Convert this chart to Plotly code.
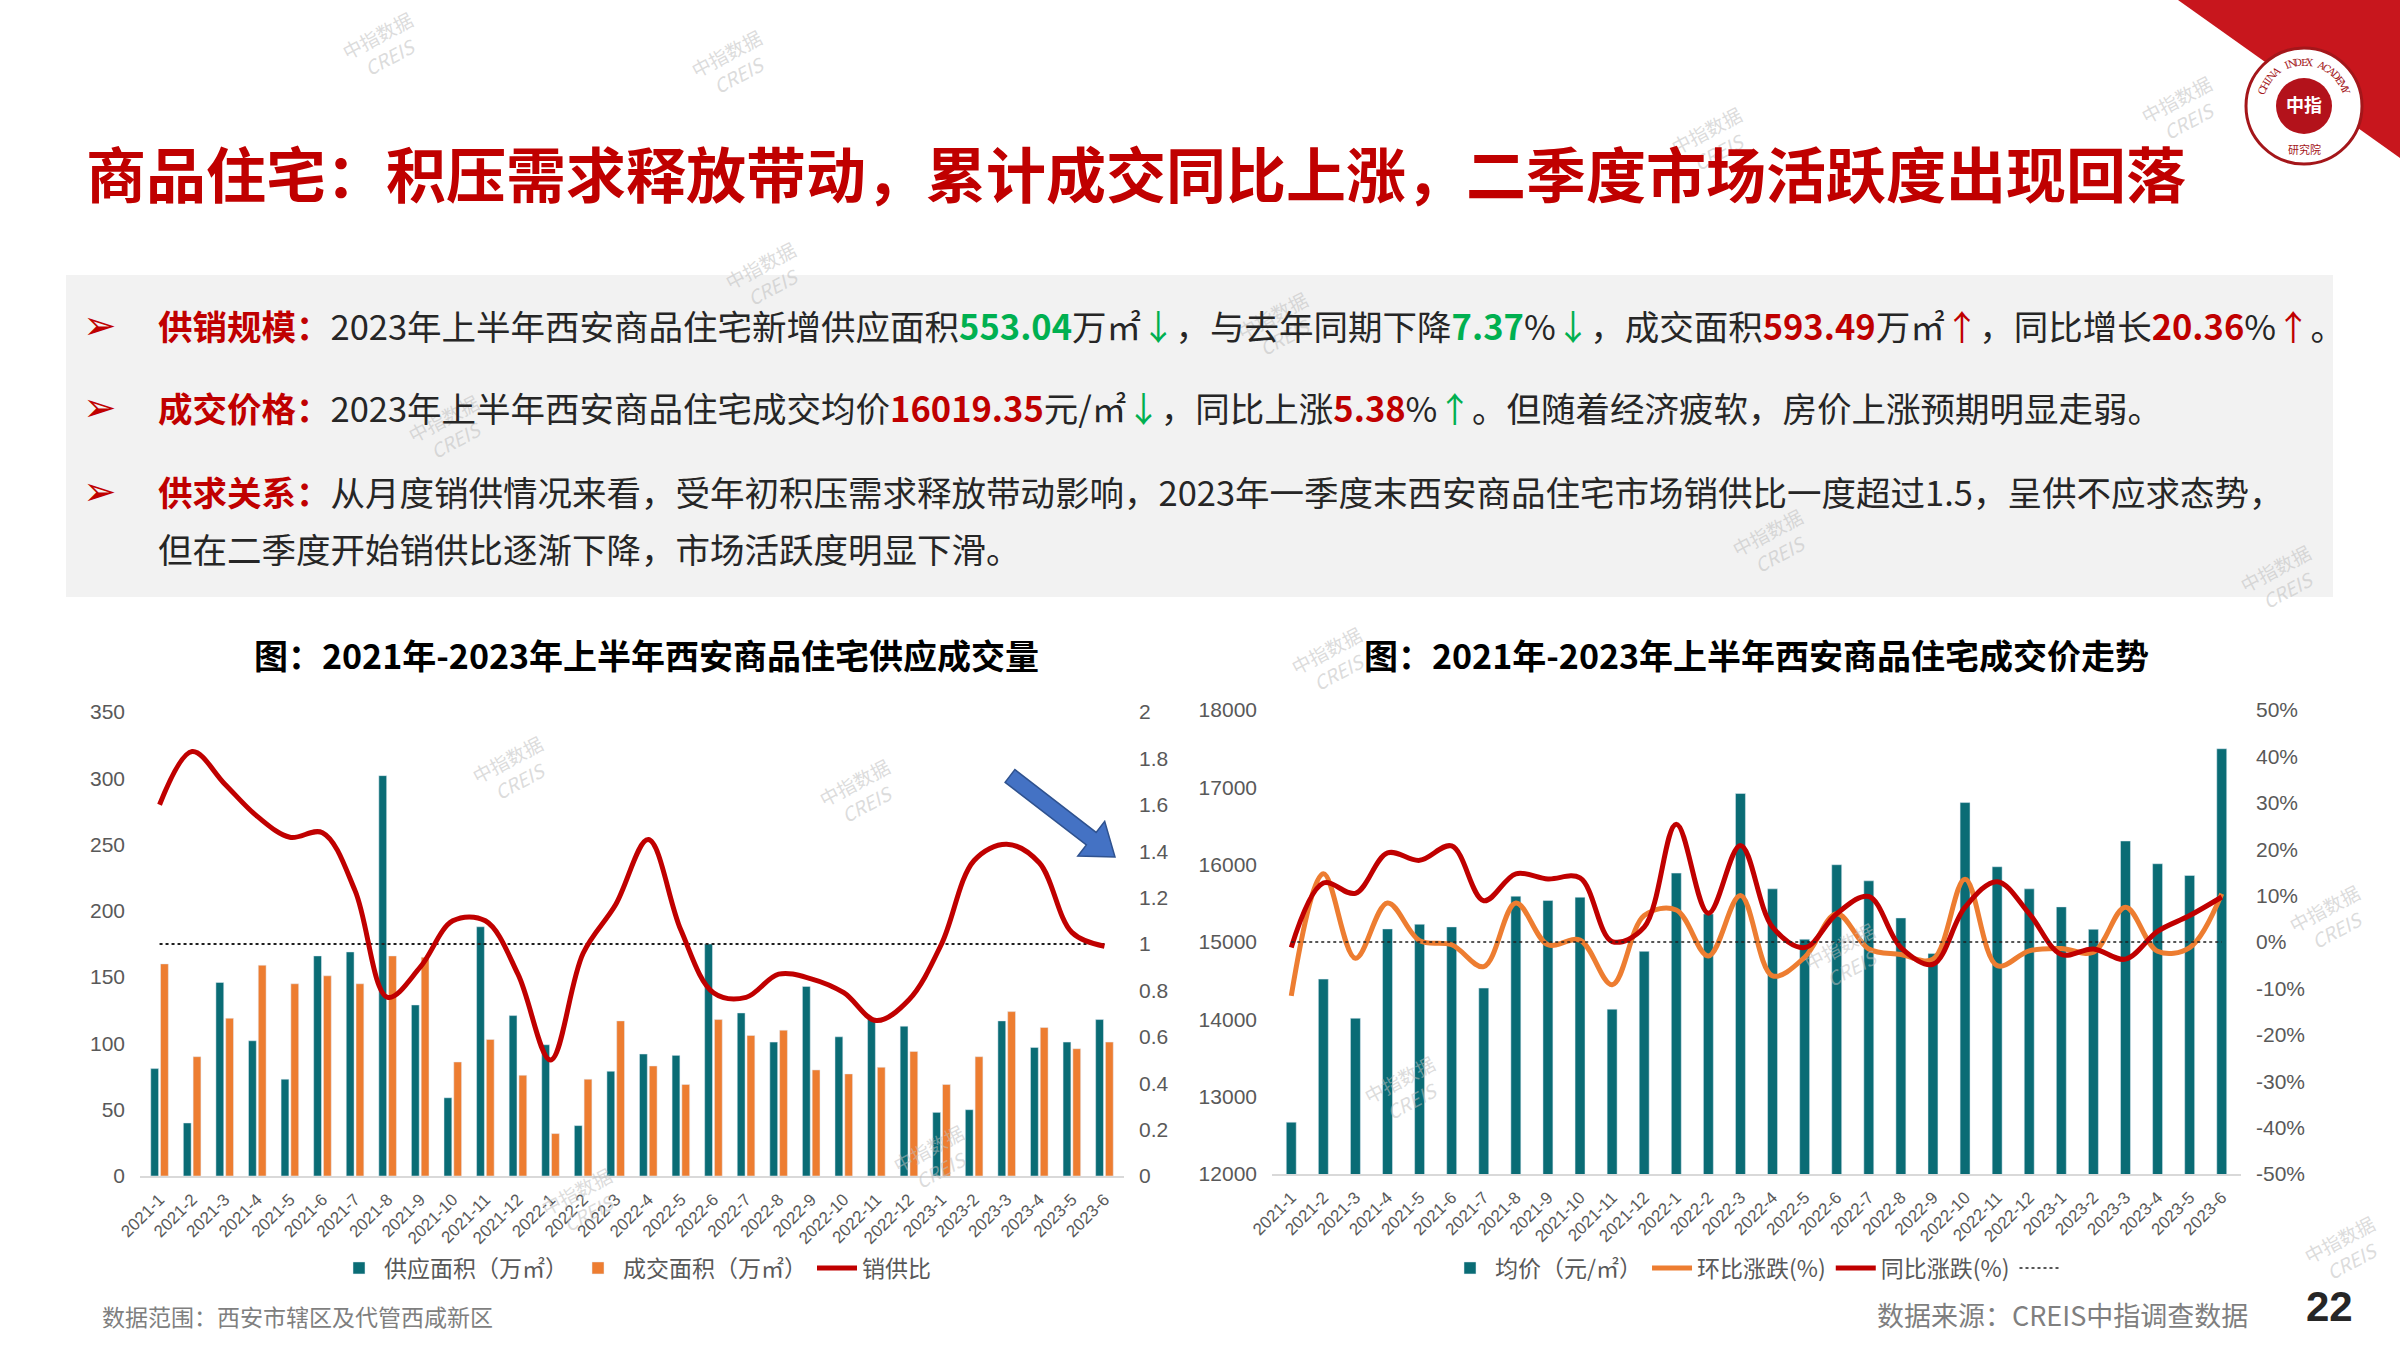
import numpy as np
import plotly.graph_objects as go

W, H = 2400, 1350

months = ["2021-1", "2021-2", "2021-3", "2021-4", "2021-5", "2021-6", "2021-7", "2021-8",
          "2021-9", "2021-10", "2021-11", "2021-12", "2022-1", "2022-2", "2022-3", "2022-4",
          "2022-5", "2022-6", "2022-7", "2022-8", "2022-9", "2022-10", "2022-11", "2022-12",
          "2023-1", "2023-2", "2023-3", "2023-4", "2023-5", "2023-6"]

# 供应 / 成交 (万㎡) and 销供比
supply = [81, 40, 146, 102, 73, 166, 169, 302, 129, 59, 188, 121, 99, 38, 79, 92,
          91, 175, 123, 101, 143, 105, 119, 113, 48, 50, 117, 97, 101, 118]
sales = [160, 90, 119, 159, 145, 151, 145, 166, 165, 86, 103, 76, 32, 73, 117, 83,
         69, 118, 106, 110, 80, 77, 82, 94, 69, 90, 124, 112, 96, 101]
ratio = [1.60, 1.83, 1.69, 1.55, 1.46, 1.48, 1.23, 0.77, 0.90, 1.10, 1.10, 0.87, 0.50, 0.96,
         1.17, 1.45, 1.06, 0.79, 0.77, 0.87, 0.85, 0.79, 0.67, 0.76, 1.00, 1.36, 1.43, 1.35,
         1.05, 0.99]

# 均价 (元/㎡), 环比 / 同比 (%)
price = [12670, 14520, 14014, 15169, 15229, 15195, 14404, 15592, 15536, 15579, 14131, 14879,
         15891, 15363, 16920, 15687, 15035, 15999, 15791, 15311, 14850, 16803, 15973, 15687,
         15454, 15164, 16306, 16012, 15860, 17499]
mom = [-11.6, 14.7, -3.5, 8.4, 0.3, -0.6, -5.3, 8.4, -0.6, 0.4, -9.2, 5.7, 6.9, -3.0, 10.0,
       -7.3, -3.3, 6.1, -1.5, -2.7, -3.7, 13.5, -5.1, -1.9, -1.4, -2.2, 7.5, -2.0, -1.2, 10.4]
yoy = [-1.2, 12.7, 10.5, 19.2, 17.6, 20.7, 8.9, 14.7, 13.6, 13.8, 0.1, 3.2, 25.4, 6.2, 20.8,
       3.2, -1.2, 6.1, 9.8, -1.2, -4.8, 7.5, 13.0, 6.1, -2.7, -1.5, -3.7, 2.3, 5.7, 9.7]

ratio_ticks = [0, 0.2, 0.4, 0.6, 0.8, 1, 1.2, 1.4, 1.6, 1.8, 2]
pct_ticks = [-50, -40, -30, -20, -10, 0, 10, 20, 30, 40, 50]
pct_labels = [f"{v}%" for v in pct_ticks]

TEAL = "#0A6C75"
ORANGE = "#ED7D31"
RED = "#C00000"
GREEN = "#00B050"
GREY = "#595959"
CJK = "Noto Sans CJK SC"
LAT = "Liberation Sans"


def px(x):
    return x / W


def py(y):
    return 1 - y / H


fig = go.Figure()

# ---- left chart: supply / sales / ratio
fig.add_trace(go.Bar(x=months, y=supply, name="供应面积（万㎡）", marker_color=TEAL,
                     width=0.24, offset=-0.27, xaxis="x", yaxis="y", legend="legend"))
fig.add_trace(go.Bar(x=months, y=sales, name="成交面积（万㎡）", marker_color=ORANGE,
                     width=0.24, offset=0.03, xaxis="x", yaxis="y", legend="legend"))
fig.add_trace(go.Scatter(x=months, y=[1] * len(months), mode="lines", showlegend=False,
                         line=dict(color="#1F1F1F", width=2, dash="dot"),
                         xaxis="x", yaxis="y2", hoverinfo="skip"))
fig.add_trace(go.Scatter(x=months, y=ratio, name="销供比", mode="lines",
                         line=dict(color=RED, width=5, shape="spline", smoothing=1.0),
                         xaxis="x", yaxis="y2", legend="legend"))

# ---- right chart: price / mom / yoy
fig.add_trace(go.Bar(x=months, y=price, name="均价（元/㎡）", marker_color=TEAL,
                     width=0.31, offset=-0.155, xaxis="x2", yaxis="y3", legend="legend2"))
fig.add_trace(go.Scatter(x=months, y=mom, name="环比涨跌(%)", mode="lines",
                         line=dict(color=ORANGE, width=5, shape="spline", smoothing=1.0),
                         xaxis="x2", yaxis="y4", legend="legend2"))
fig.add_trace(go.Scatter(x=months, y=yoy, name="同比涨跌(%)", mode="lines",
                         line=dict(color=RED, width=5, shape="spline", smoothing=1.0),
                         xaxis="x2", yaxis="y4", legend="legend2"))
fig.add_trace(go.Scatter(x=months, y=[0] * len(months), name=" ", mode="lines",
                         line=dict(color="#1F1F1F", width=1.5, dash="dot"),
                         xaxis="x2", yaxis="y4", legend="legend2", hoverinfo="skip"))

tickfont = dict(family=LAT, size=21, color=GREY)
xtickfont = dict(family=LAT, size=17, color=GREY)

left_dom = [px(140), px(1124)]
left_ydom = [py(1176), py(712)]
right_dom = [px(1272), px(2241)]
right_ydom = [py(1174), py(710)]

xcommon = dict(type="category", tickangle=-45, tickfont=xtickfont, showline=True,
               linecolor="#D9D9D9", linewidth=2, showgrid=False, ticks="",
               ticklabelstandoff=5, range=[-0.6, 29.6], automargin=False)

fig.update_layout(
    width=W, height=H, margin=dict(l=0, r=0, t=0, b=0, autoexpand=False),
    paper_bgcolor="white", plot_bgcolor="rgba(0,0,0,0)",
    barmode="overlay", showlegend=True,
    font=dict(family=CJK, color="#262626"),
    xaxis=dict(domain=left_dom, anchor="y", **xcommon),
    yaxis=dict(domain=left_ydom, anchor="x", range=[0, 350], dtick=50, showgrid=False,
               zeroline=False, tickfont=tickfont, ticklabelstandoff=14, automargin=False),
    yaxis2=dict(overlaying="y", anchor="x", side="right", range=[0, 2],
                tickvals=ratio_ticks, showgrid=False, zeroline=False, tickfont=tickfont,
                ticklabelstandoff=14, automargin=False),
    xaxis2=dict(domain=right_dom, anchor="y3", **xcommon),
    yaxis3=dict(domain=right_ydom, anchor="x2", range=[12000, 18000], dtick=1000,
                tickformat="d", showgrid=False, zeroline=False, tickfont=tickfont,
                ticklabelstandoff=14, automargin=False),
    yaxis4=dict(overlaying="y3", anchor="x2", side="right", range=[-50, 50],
                tickvals=pct_ticks, ticktext=pct_labels, showgrid=False, zeroline=False,
                tickfont=tickfont, ticklabelstandoff=14, automargin=False),
    legend=dict(orientation="h", x=px(635), xanchor="center", y=py(1268), yanchor="middle",
                font=dict(family=CJK, size=23, color=GREY), bgcolor="rgba(0,0,0,0)",
                itemwidth=40),
    legend2=dict(orientation="h", x=px(1760), xanchor="center", y=py(1268), yanchor="middle",
                 font=dict(family=CJK, size=23, color=GREY), bgcolor="rgba(0,0,0,0)",
                 itemwidth=40),
)

shapes = []
# grey text panel
shapes.append(dict(type="rect", xref="paper", yref="paper", x0=px(66), x1=px(2333),
                   y0=py(597), y1=py(275), fillcolor="#F2F2F2", line_width=0, layer="below"))
# red corner
shapes.append(dict(type="path", xref="paper", yref="paper",
                   path=f"M {px(2178)},{py(0)} L {px(2400)},{py(0)} L {px(2400)},{py(158)} Z",
                   fillcolor="#C8161D", line_width=0))
# logo
cx, cy = 2304, 106
for r, fill, lc, lw in [(58, "white", "#A4161A", 3), (28, "#B3121B", "#B3121B", 0)]:
    shapes.append(dict(type="circle", xref="paper", yref="paper", x0=px(cx - r), x1=px(cx + r),
                       y0=py(cy + r), y1=py(cy - r), fillcolor=fill,
                       line=dict(color=lc, width=lw)))
# blue arrow
x0a, y0a, x1a, y1a = 1010, 776, 1115, 857
d = np.array([x1a - x0a, y1a - y0a], dtype=float)
L = np.hypot(*d)
u = d / L
n = np.array([-u[1], u[0]])
hw, sw, hl = 22, 8, 30
base = np.array([x0a, y0a]) + u * (L - hl)
pts = [np.array([x0a, y0a]) + n * sw, base + n * sw, base + n * hw, np.array([x1a, y1a]),
       base - n * hw, base - n * sw, np.array([x0a, y0a]) - n * sw]
path = "M " + " L ".join(f"{px(p[0])},{py(p[1])}" for p in pts) + " Z"
shapes.append(dict(type="path", xref="paper", yref="paper", path=path,
                   fillcolor="#4472C4", line=dict(color="#2F528F", width=1.5)))
fig.update_layout(shapes=shapes)

ann = []


def text(x, y, s, size, color="#262626", xanchor="left", family=CJK, angle=0):
    ann.append(dict(x=px(x), y=py(y), xref="paper", yref="paper", text=s, showarrow=False,
                    xanchor=xanchor, yanchor="middle", textangle=angle,
                    font=dict(family=family, size=size, color=color)))


# watermarks
wm_pos = [(383, 46), (732, 64), (1712, 141), (2182, 110), (766, 276), (1278, 326),
          (449, 429), (1773, 543), (2281, 579), (513, 770), (860, 793), (1332, 661),
          (1405, 1090), (1845, 957), (2330, 919), (582, 1202), (934, 1159), (2345, 1250)]
for wx, wy in wm_pos:
    text(wx, wy, "中指数据<br><i>CREIS</i>", 19, "rgba(190,190,190,0.55)", "center", angle=-28)

text(84, 171, "<b>商品住宅：积压需求释放带动，累计成交同比上涨，二季度市场活跃度出现回落</b>", 60, RED)


def c(s, col, bold=False):
    s = f"<span style='color:{col}'>{s}</span>"
    return f"<b>{s}</b>" if bold else s


line1 = (c("供销规模：", RED, True) + "2023年上半年西安商品住宅新增供应面积" + c("553.04", GREEN, True)
         + "万㎡" + c("↓", GREEN) + "，与去年同期下降" + c("7.37", GREEN, True) + "%" + c("↓", GREEN)
         + "，成交面积" + c("593.49", RED, True) + "万㎡" + c("↑", RED) + "，同比增长"
         + c("20.36", RED, True) + "%" + c("↑", RED) + "。")
line2 = (c("成交价格：", RED, True) + "2023年上半年西安商品住宅成交均价" + c("16019.35", RED, True)
         + "元/㎡" + c("↓", GREEN) + "，同比上涨" + c("5.38", RED, True) + "%" + c("↑", GREEN)
         + "。但随着经济疲软，房价上涨预期明显走弱。")
line3 = (c("供求关系：", RED, True)
         + "从月度销供情况来看，受年初积压需求释放带动影响，2023年一季度末西安商品住宅市场销供比一度超过1.5，呈供不应求态势，")
line4 = "但在二季度开始销供比逐渐下降，市场活跃度明显下滑。"

for yy, s in [(325, line1), (407, line2), (491, line3), (548, line4)]:
    text(156, yy, s, 34.5)
for yy in [325, 407, 491]:
    text(100, yy, "➢", 40, RED, "center", family="DejaVu Sans")

text(646, 654, "<b>图：2021年-2023年上半年西安商品住宅供应成交量</b>", 34, "#000000", "center")
text(1756, 654, "<b>图：2021年-2023年上半年西安商品住宅成交价走势</b>", 34, "#000000", "center")

text(100, 1316, "数据范围：西安市辖区及代管西咸新区", 23, "#7F7F7F")
text(2250, 1314, "数据来源：CREIS中指调查数据", 27, "#7F7F7F", "right")
text(2329, 1306, "<b>22</b>", 42, "#262626", "center", family=LAT)

# logo text
text(cx, cy - 2, "<b>中指</b>", 18, "white", "center")
arc = "CHINA INDEX ACADEMY"
for i, ch in enumerate(arc):
    a = np.deg2rad(200 + i * (140 / (len(arc) - 1)))
    text(cx + 44 * np.cos(a), cy + 44 * np.sin(a), ch, 10, "#A4161A", "center",
         family="DejaVu Serif", angle=np.rad2deg(a) + 90)
text(cx, cy + 43, "研究院", 11, "#A4161A", "center")

fig.update_layout(annotations=ann)

fig.write_html("out.html", config={"displayModeBar": False},
               post_script="document.body.style.margin='0';document.body.style.overflow='hidden';")
